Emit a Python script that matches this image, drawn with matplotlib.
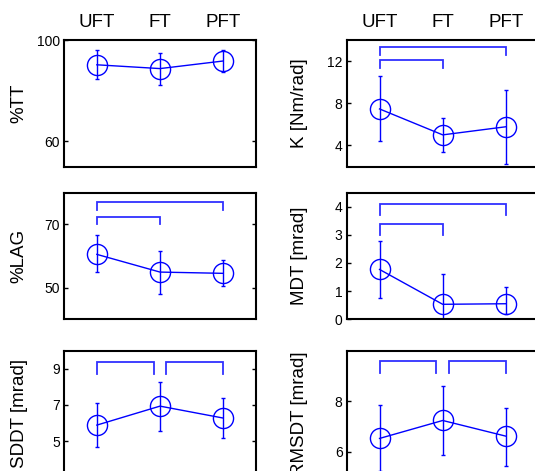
from matplotlib import pyplot as plt
import numpy as np

plt.rcParams['font.family'] = ['Liberation Sans', 'DejaVu Sans']

conds = ["UFT", "FT", "PFT"]
xpos = [1, 2, 3]

# means and error bars (lower, upper)
tt_mean = [90.2, 88.7, 91.7]
tt_lo = [5.7, 6.5, 4.3]
tt_hi = [5.8, 6.0, 4.5]

k_mean = [7.46, 5.0, 5.77]
k_lo = [3.08, 1.6, 3.52]
k_hi = [3.11, 1.57, 3.5]

lag_mean = [60.5, 54.9, 54.5]
lag_lo = [5.6, 7.0, 4.0]
lag_hi = [6.0, 6.8, 4.1]

mdt_mean = [1.77, 0.53, 0.55]
mdt_lo = [1.0, 1.07, 0.37]
mdt_hi = [1.02, 1.07, 0.6]

sddt_mean = [5.88, 6.93, 6.27]
sddt_lo = [1.22, 1.36, 1.12]
sddt_hi = [1.2, 1.33, 1.1]

rms_mean = [6.53, 7.24, 6.62]
rms_lo = [1.3, 1.37, 1.16]
rms_hi = [1.31, 1.35, 1.12]

# significance brackets: (x start, x end, bar level, leg end)
tt_br = []
k_br = [(1, 3, 13.33, 12.6), (1, 2, 12.07, 11.37)]
lag_br = [(1, 3, 77.1, 74.5), (1, 2, 72.4, 70.0)]
mdt_br = [(1, 3, 4.1, 3.69), (1, 2, 3.39, 3.0)]
sddt_br = [(1, 1.9, 9.36, 8.72), (2.1, 3, 9.36, 8.72)]
rms_br = [(1, 1.9, 9.58, 9.12), (2.1, 3, 9.58, 9.12)]

panels = [
    ("%TT", tt_mean, tt_lo, tt_hi, tt_br, (50, 100), [60, 100]),
    ("K [Nm/rad]", k_mean, k_lo, k_hi, k_br, (2, 14), [4, 8, 12]),
    ("%LAG", lag_mean, lag_lo, lag_hi, lag_br, (40, 80), [50, 70]),
    ("MDT [mrad]", mdt_mean, mdt_lo, mdt_hi, mdt_br, (0, 4.5), [0, 1, 2, 3, 4]),
    ("SDDT [mrad]", sddt_mean, sddt_lo, sddt_hi, sddt_br, (3, 10), [5, 7, 9]),
    ("RMSDT [mrad]", rms_mean, rms_lo, rms_hi, rms_br, (5, 10), [6, 8]),
]

fig = plt.figure(figsize=(5.35, 4.71), dpi=100)
W, H = 535.0, 471.0
col_x = [64, 346.7]
row_top = [40, 192.7, 345]
aw, ah = 192, 126.5

for i, (lab, m, lo, hi, br, ylim, yt) in enumerate(panels):
    r, c = divmod(i, 2)
    left = col_x[c] / W
    bottom = (H - row_top[r] - ah) / H
    if r == 2:
        bottom -= 0.012
    ax = fig.add_axes([left, bottom, aw / W, ah / H])
    ax.errorbar(xpos, m, yerr=[lo, hi], color='blue', lw=1, elinewidth=1,
                capsize=1.2, marker='o', ms=14.5, mfc='none', mew=1)
    for x1, x2, yb, yl in br:
        ax.plot([x1, x1, x2, x2], [yl, yb, yb, yl], color='#3030ff', lw=1.3,
                solid_joinstyle='miter')
    ax.set_xlim(0.48, 3.52)
    ax.set_ylim(*ylim)
    ax.set_yticks(yt)
    ax.tick_params(axis='y', direction='in', length=3, width=1,
                   left=True, right=True, labelsize=10, pad=3)
    if r == 0:
        ax.xaxis.tick_top()
        ax.set_xticks(xpos)
        ax.set_xticklabels(conds, fontsize=13.5)
        ax.tick_params(axis='x', length=0, pad=6.5)
    else:
        ax.set_xticks([])
    for s in ax.spines.values():
        s.set_linewidth(1.5)
    ax.set_ylabel(lab, fontsize=13.5)
    ax.yaxis.set_label_coords(-0.19 if c == 0 else -0.2, 0.5)

fig.savefig("out.png", dpi=100)
